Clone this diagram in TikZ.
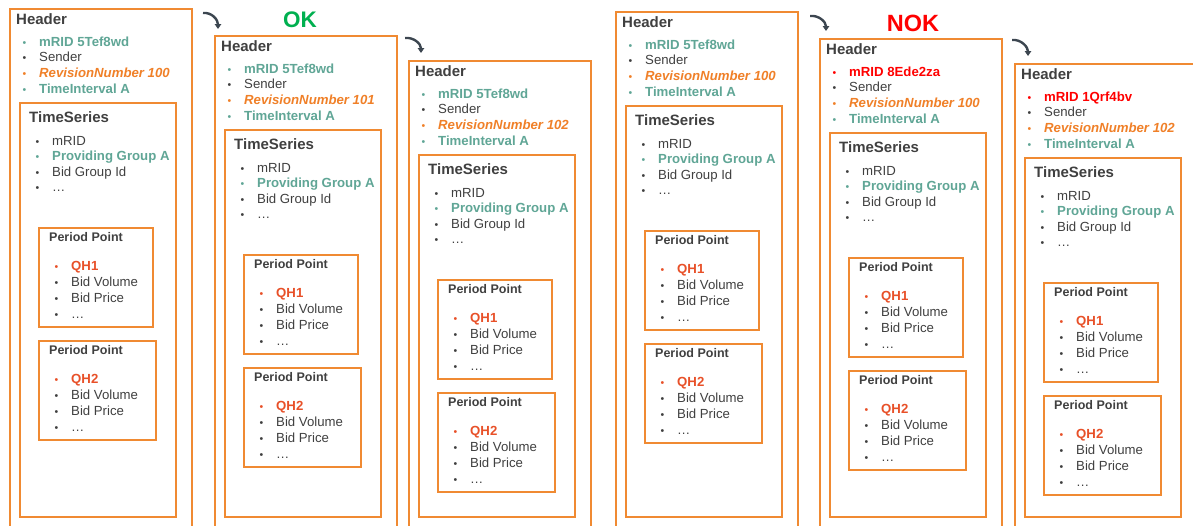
\documentclass[tikz,border=0pt]{standalone}
\usepackage{fontspec}
\setmainfont{Liberation Sans}
\usetikzlibrary{shadows,arrows.meta,calc}
\definecolor{boxor}{RGB}{240,138,50}
\definecolor{txt}{RGB}{64,64,64}
\definecolor{teal}{RGB}{96,166,150}
\definecolor{orn}{RGB}{240,128,40}
\definecolor{qhc}{RGB}{232,80,40}
\definecolor{redc}{RGB}{255,0,0}
\definecolor{okg}{RGB}{0,176,80}
\definecolor{arrc}{RGB}{60,70,80}
\tikzset{
  box/.style={draw=boxor, line width=1.6pt, fill=white, inner sep=0pt,
    drop shadow={shadow xshift=1.6pt, shadow yshift=-1.6pt, opacity=0.14, fill=black, draw=none}},
  itm/.style={anchor=base west, inner sep=0pt, font=\fontsize{13.2}{15}\selectfont, text=txt},
  hd/.style={anchor=base west, inner sep=0pt, font=\bfseries\fontsize{15}{18}\selectfont, text=txt},
  pph/.style={anchor=base west, inner sep=0pt, font=\bfseries\fontsize{12.5}{15}\selectfont, text=txt},
  arr/.style={draw=arrc, line width=2.4pt, -{Triangle[length=5pt,width=6.5pt]}},
}
\newcommand\bul[2]{\makebox[16.5pt][l]{\textcolor{#1}{\fontsize{10.5}{10}\selectfont •}}\textcolor{#1}{#2}}
\newcommand\mycol[6]{%
\begin{scope}[shift={(#2,#3)}]
\pgfmathsetmacro\tsh{422-#3}
\node[box, anchor=north west, minimum width=182pt, minimum height=560pt] (#1) at (0,0) {};
\node[hd] (#1t) at (7,16) {Header};
\node[itm] (#1a) at (13.5,38) {\bul{#5}{\bfseries #4}};
\node[itm] (#1b) at (13.5,53.7) {\bul{txt}{Sender}};
\node[itm] (#1c) at (13.5,69.3) {\bul{orn}{\bfseries\itshape RevisionNumber #6}};
\node[itm] (#1d) at (13.5,85) {\bul{teal}{\bfseries TimeInterval A}};
\node[box, anchor=north west, minimum width=156pt, minimum height=\tsh pt] (#1ts) at (10,94) {};
\node[hd] (#1tst) at (20,114) {TimeSeries};
\node[itm] (#1ta) at (26.5,137) {\bul{txt}{mRID}};
\node[itm] (#1tb) at (26.5,152.6) {\bul{teal}{\bfseries Providing Group A}};
\node[itm] (#1tc) at (26.5,168.2) {\bul{txt}{Bid Group Id}};
\node[itm] (#1td) at (26.5,183.8) {\bul{txt}{…}};
\node[box, anchor=north west, minimum width=114pt, minimum height=99pt] (#1p) at (29,219) {};
\node[pph] (#1pt) at (40,233.5) {Period Point};
\node[itm] (#1pa) at (45.5,262) {\bul{qhc}{\bfseries QH1}};
\node[itm] (#1pb) at (45.5,278) {\bul{txt}{Bid Volume}};
\node[itm] (#1pc) at (45.5,294) {\bul{txt}{Bid Price}};
\node[itm] (#1pd) at (45.5,310) {\bul{txt}{…}};
\node[box, anchor=north west, minimum width=117pt, minimum height=99pt] (#1q) at (29,332) {};
\node[pph] (#1qt) at (40,346.5) {Period Point};
\node[itm] (#1qa) at (45.5,375) {\bul{qhc}{\bfseries QH2}};
\node[itm] (#1qb) at (45.5,391) {\bul{txt}{Bid Volume}};
\node[itm] (#1qc) at (45.5,407) {\bul{txt}{Bid Price}};
\node[itm] (#1qd) at (45.5,423) {\bul{txt}{…}};
\end{scope}}
\begin{document}
\begin{tikzpicture}[x=1pt,y=-1pt]
\useasboundingbox[fill=white] (0,0) rectangle (1193,525);
\mycol{ca}{9}{8}{mRID 5Tef8wd}{teal}{100}
\mycol{cb}{214}{35}{mRID 5Tef8wd}{teal}{101}
\mycol{cc}{408}{60}{mRID 5Tef8wd}{teal}{102}
\mycol{cd}{615}{11}{mRID 5Tef8wd}{teal}{100}
\mycol{ce}{819}{38}{mRID 8Ede2za}{redc}{100}
\mycol{cf}{1014}{63}{mRID 1Qrf4bv}{redc}{102}
\node[inner sep=0pt, font=\bfseries\fontsize{22.5}{24}\selectfont, text=okg] (ok) at (300,20) {OK};
\node[inner sep=0pt, font=\bfseries\fontsize{23.5}{25}\selectfont, text=redc] (nok) at (913,23.5) {NOK};
\coordinate (a1s) at (203,13); \coordinate (a1e) at (218,29);
\coordinate (a2s) at (405,38); \coordinate (a2e) at (421,53);
\coordinate (a3s) at (810,16); \coordinate (a3e) at (826,31);
\coordinate (a4s) at (1012,40); \coordinate (a4e) at (1028,56);
\foreach \s/\e in {a1s/a1e,a2s/a2e,a3s/a3e,a4s/a4e}
  \draw[arr] (\s) .. controls ($(\s)+(9,-1)$) and ($(\e)+(0,-9)$) .. (\e);
\end{tikzpicture}
\end{document}
